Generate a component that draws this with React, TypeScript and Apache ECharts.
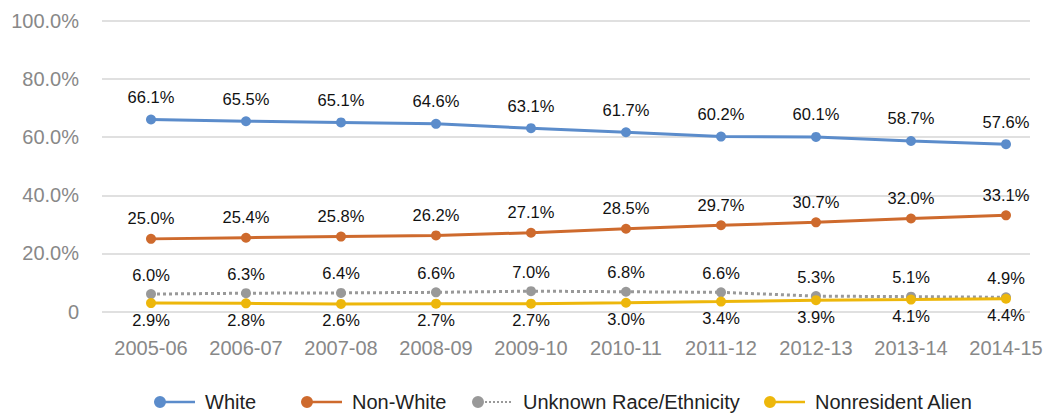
import React, { useEffect, useRef } from "react";
import * as echarts from "echarts";

const categories = ["2005-06", "2006-07", "2007-08", "2008-09", "2009-10", "2010-11", "2011-12", "2012-13", "2013-14", "2014-15"];
const white = [66.1, 65.5, 65.1, 64.6, 63.1, 61.7, 60.2, 60.1, 58.7, 57.6];
const nonWhite = [25.0, 25.4, 25.8, 26.2, 27.1, 28.5, 29.7, 30.7, 32.0, 33.1];
const unknown = [6.0, 6.3, 6.4, 6.6, 7.0, 6.8, 6.6, 5.3, 5.1, 4.9];
const nonresident = [2.9, 2.8, 2.6, 2.7, 2.7, 3.0, 3.4, 3.9, 4.1, 4.4];
const yTicks = [0, 20, 40, 60, 80, 100];

const FONT = "'Liberation Sans', Arial, sans-serif";
const C_WHITE = "#5B8CCB";
const C_NONWHITE = "#CE6A2D";
const C_UNKNOWN = "#999999";
const C_NONRES = "#EDB70B";

const solidIcon = "path://M6,0 A6,6 0 1,1 6,12 A6,6 0 1,1 6,0 Z M10,4.75 L41,4.75 L41,7.25 L10,7.25 Z";
let dots = "";
for (const x of [13, 17, 21, 25, 29, 33, 37]) {
  dots += ` M${x},5 L${x + 2},5 L${x + 2},7 L${x},7 Z`;
}
const dottedIcon = "path://M6,0 A6,6 0 1,1 6,12 A6,6 0 1,1 6,0 Z M40.9,5.9 L41,5.9 L41,6.1 L40.9,6.1 Z" + dots;

export default function App() {
  const ref = useRef<HTMLDivElement>(null);
  useEffect(() => {
    if (!ref.current) return;
    const chart = echarts.init(ref.current, undefined, { renderer: "svg" });
    const gridTop = 21;
    const gridBottom = 102.5;
    const labelStyle = { color: "#111", fontSize: 16.5, fontFamily: FONT };
    const mkSeries = (name: string, data: number[], color: string, pos: string, dist: number, dotted = false) => ({
      name,
      type: "line",
      xAxisIndex: 1,
      yAxisIndex: 1,
      data,
      symbol: "circle",
      symbolSize: 10,
      itemStyle: { color, borderWidth: 0 },
      lineStyle: { color, width: 3, type: dotted ? "dotted" : "solid" },
      label: {
        show: true,
        position: pos,
        distance: dist,
        formatter: (p: any) => p.value.toFixed(1) + "%",
        ...labelStyle,
      },
    });
    // legend-only placeholder series (no data) so the legend draws custom icons
    const mkLegendSeries = (name: string, color: string) => ({
      name,
      type: "scatter",
      xAxisIndex: 1,
      yAxisIndex: 1,
      data: [],
      itemStyle: { color, borderWidth: 0, opacity: 1 },
    });
    const legendBase = {
      top: 387,
      itemWidth: 41,
      itemHeight: 12,
      itemStyle: { borderWidth: 0, opacity: 1 },
      textStyle: { color: "#222", fontSize: 20, fontFamily: FONT, padding: [0, 0, 0, 5] },
    };
    chart.setOption({
      animation: false,
      backgroundColor: "#fff",
      grid: [
        { left: 102, right: 17, top: gridTop, bottom: gridBottom },
        { left: 151, right: 41, top: gridTop, bottom: gridBottom },
      ],
      xAxis: [
        { type: "category", gridIndex: 0, data: categories, show: false },
        {
          type: "category",
          gridIndex: 1,
          data: categories,
          boundaryGap: false,
          axisLine: { show: false },
          axisTick: { show: false },
          splitLine: { show: false },
          axisLabel: { color: "#888", fontSize: 20, fontFamily: FONT, margin: 26, interval: 0 },
        },
      ],
      yAxis: [
        {
          type: "value",
          gridIndex: 0,
          min: yTicks[0],
          max: yTicks[yTicks.length - 1],
          interval: 20,
          axisLine: { show: false },
          axisTick: { show: false },
          splitLine: { lineStyle: { color: "#d6d6d6", width: 1.5 } },
          axisLabel: {
            color: "#888",
            fontSize: 20,
            fontFamily: FONT,
            margin: 23,
            formatter: (v: number) => (v === 0 ? "0" : v.toFixed(1) + "%"),
          },
        },
        { type: "value", gridIndex: 1, min: 0, max: 100, interval: 20, show: false },
      ],
      legend: [
        { ...legendBase, left: 149, data: [{ name: "White", icon: solidIcon }] },
        { ...legendBase, left: 296, data: [{ name: "Non-White", icon: solidIcon }] },
        { ...legendBase, left: 467, data: [{ name: "Unknown Race/Ethnicity", icon: dottedIcon }] },
        { ...legendBase, left: 759, data: [{ name: "Nonresident Alien", icon: solidIcon }] },
      ],
      series: [
        mkLegendSeries("White", C_WHITE),
        mkLegendSeries("Non-White", C_NONWHITE),
        mkLegendSeries("Unknown Race/Ethnicity", C_UNKNOWN),
        mkLegendSeries("Nonresident Alien", C_NONRES),
        mkSeries("White", white, C_WHITE, "top", 9),
        mkSeries("Non-White", nonWhite, C_NONWHITE, "top", 7),
        mkSeries("Unknown Race/Ethnicity", unknown, C_UNKNOWN, "top", 6, true),
        mkSeries("Nonresident Alien", nonresident, C_NONRES, "bottom", 3),
      ],
    });
    return () => chart.dispose();
  }, []);
  return <div ref={ref} style={{ position: "fixed", left: 0, top: 0, width: 1047, height: 414 }} />;
}
